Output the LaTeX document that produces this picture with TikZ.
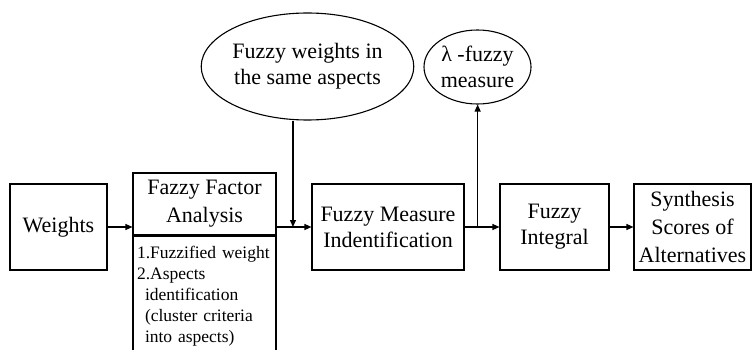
\documentclass[tikz,border=0pt]{standalone}
\usepackage{fontspec}
\setmainfont{Liberation Serif}
\usetikzlibrary{arrows.meta,positioning,calc,shapes.geometric}
\tikzset{
  >={Triangle[length=7pt,width=6pt]},
  procbox/.style={draw,line width=1.1pt,align=center,inner sep=2pt,
                  font=\fontsize{22}{26}\selectfont},
  notebox/.style={draw,line width=1.1pt,align=left,anchor=north west,
                  text width=135pt,inner xsep=4pt,inner ysep=10pt,
                  font=\fontsize{17.5}{21}\selectfont},
  inputoval/.style={ellipse,draw,line width=1.1pt,align=center,inner sep=0pt,
                    font=\fontsize{22}{26}\selectfont},
  flowarrow/.style={->,line width=1.1pt},
  flowline/.style={line width=1.1pt},
}

\begin{document}
\begin{tikzpicture}[x=1pt,y=-1pt]
  \useasboundingbox (0,0) rectangle (752,350);
  % main row
  \node[procbox,minimum width=97pt,minimum height=86pt] (weights) at (58.5,227) {Weights};
  \node[procbox,minimum width=143pt,minimum height=62pt,
        font=\fontsize{22}{28}\selectfont] (factor) at (204.5,204) {Fazzy Factor\\Analysis};
  \node[notebox,text depth=130pt] (factornote) at (factor.south west)
    {1.Fuzzified weight\\2.Aspects\\\hspace*{8pt}identification\\\hspace*{8pt}(cluster criteria\\\hspace*{8pt}into aspects)};
  \node[procbox,minimum width=152pt,minimum height=86pt] (measure) at (388,227) {Fuzzy Measure\\Indentification};
  \node[procbox,minimum width=109pt,minimum height=86pt] (integral) at (554.5,227) {Fuzzy\\Integral};
  \node[procbox,minimum width=117pt,minimum height=86pt,
        font=\fontsize{22}{28}\selectfont] (synthesis) at (692.5,227) {Synthesis\\Scores of\\Alternatives};
  % ovals
  \node[inputoval,minimum width=152pt,minimum height=107pt] (weightsin) at (307.5,66.5) {Fuzzy weights in\\the same aspects};
  \node[inputoval,minimum width=107pt,minimum height=74pt] (lambda) at (477.5,67) {λ -fuzzy\\measure};
  % connectors
  \coordinate (j1) at ($(factor.east |- weights.east)!0.47!(measure.west)$);
  \coordinate (j2) at ($(measure.east)!0.375!(integral.west)$);
  \draw[flowarrow] (weights.east) -- (weights.east -| factor.west);
  \draw[flowarrow] (weights.east -| factor.east) -- (measure.west);
  \draw[flowarrow] (weightsin.south -| j1) -- (j1);
  \draw[flowarrow] (measure.east) -- (integral.west);
  \draw[flowarrow] (j2) -- (j2 |- lambda.south);
  \draw[flowarrow] (integral.east) -- (synthesis.west);
\end{tikzpicture}
\end{document}
